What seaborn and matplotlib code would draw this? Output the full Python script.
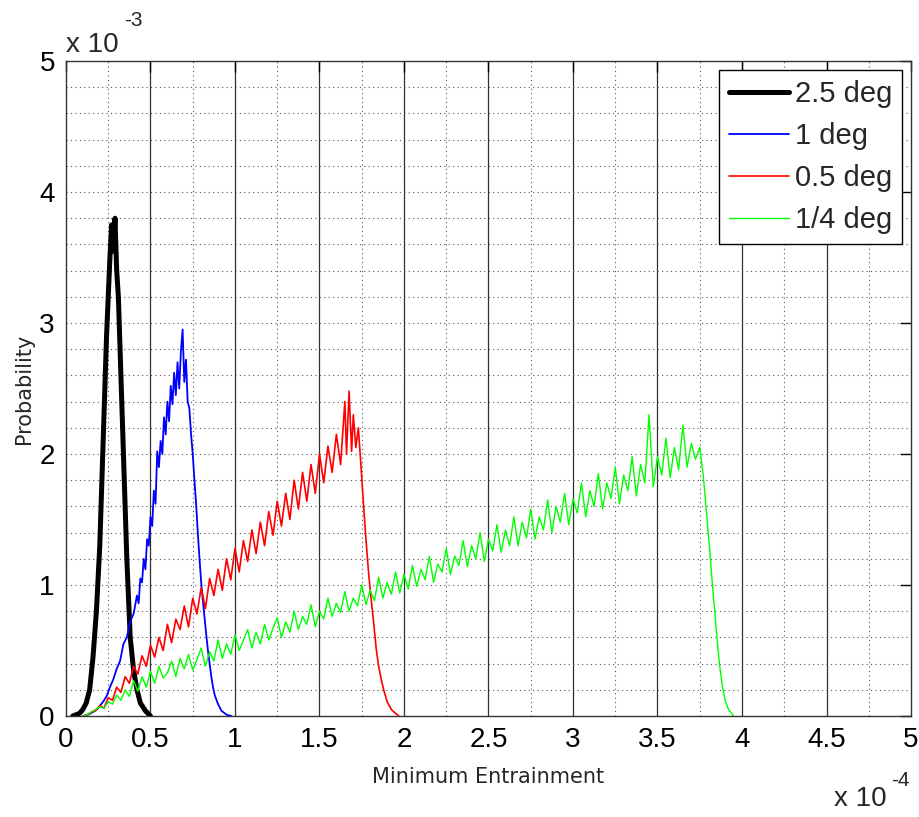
import numpy as np
import pandas as pd
import matplotlib
matplotlib.use("Agg")
import matplotlib.pyplot as plt
import seaborn as sns

# x in units of 1e-4, y in units of 1e-3
x_25 = [0.04, 0.08, 0.10, 0.12, 0.14, 0.16, 0.18, 0.19, 0.20, 0.21, 0.22, 0.23, 0.24, 0.25,
        0.26, 0.27, 0.28, 0.29, 0.30, 0.31, 0.32, 0.33, 0.34, 0.35, 0.36, 0.37, 0.38, 0.40,
        0.42, 0.44, 0.47, 0.50]
y_25 = [0.00, 0.02, 0.05, 0.10, 0.20, 0.45, 0.80, 1.05, 1.30, 1.70, 2.10, 2.50, 2.90, 3.20,
        3.50, 3.75, 3.55, 3.80, 3.40, 3.20, 2.80, 2.40, 2.00, 1.60, 1.20, 0.90, 0.60, 0.35,
        0.20, 0.10, 0.04, 0.00]

x_1 = [0.10, 0.13, 0.16, 0.19, 0.22, 0.24, 0.26, 0.28, 0.30, 0.32, 0.34, 0.36, 0.38, 0.40,
       0.42, 0.43, 0.44, 0.45, 0.46, 0.47, 0.48, 0.49, 0.50, 0.51, 0.52, 0.53, 0.54, 0.55,
       0.56, 0.57, 0.58, 0.59, 0.60, 0.61, 0.62, 0.63, 0.64, 0.65, 0.66, 0.67, 0.68, 0.69,
       0.70, 0.71, 0.72, 0.73, 0.74, 0.75, 0.76, 0.77, 0.78, 0.79, 0.80, 0.81, 0.82, 0.83,
       0.84, 0.85, 0.86, 0.87, 0.88, 0.90, 0.92, 0.95, 0.98]
y_1 = [0.00, 0.01, 0.03, 0.06, 0.11, 0.15, 0.22, 0.28, 0.36, 0.42, 0.55, 0.60, 0.72, 0.78,
       0.92, 0.86, 1.05, 1.02, 1.20, 1.12, 1.35, 1.30, 1.52, 1.45, 1.72, 1.62, 2.02, 1.90,
       2.10, 2.00, 2.28, 2.15, 2.40, 2.25, 2.52, 2.38, 2.62, 2.45, 2.70, 2.50, 2.78, 2.95,
       2.55, 2.72, 2.40, 2.35, 2.15, 2.00, 1.80, 1.62, 1.40, 1.20, 1.02, 0.88, 0.75, 0.62,
       0.50, 0.40, 0.30, 0.22, 0.16, 0.09, 0.04, 0.01, 0.00]

x_05 = [0.100, 0.125, 0.150, 0.175, 0.200, 0.225, 0.250, 0.275, 0.300, 0.325, 0.350, 0.375,
        0.400, 0.425, 0.450, 0.475, 0.500, 0.525, 0.550, 0.575, 0.600, 0.625, 0.650, 0.675,
        0.700, 0.725, 0.750, 0.775, 0.800, 0.825, 0.850, 0.875, 0.900, 0.925, 0.950, 0.975,
        1.000, 1.025, 1.050, 1.075, 1.100, 1.125, 1.150, 1.175, 1.200, 1.225, 1.250, 1.275,
        1.300, 1.325, 1.350, 1.375, 1.400, 1.425, 1.450, 1.475, 1.500, 1.525, 1.550, 1.575,
        1.600, 1.625, 1.650, 1.660, 1.675, 1.690, 1.700, 1.715, 1.730, 1.745, 1.760, 1.775,
        1.790, 1.805, 1.820, 1.835, 1.850, 1.865, 1.880, 1.900, 1.925, 1.950, 1.970]
y_05 = [0.00, 0.01, 0.03, 0.04, 0.08, 0.06, 0.14, 0.12, 0.22, 0.18, 0.30, 0.25,
        0.38, 0.32, 0.46, 0.38, 0.54, 0.45, 0.60, 0.50, 0.70, 0.56, 0.74, 0.66,
        0.84, 0.68, 0.90, 0.78, 0.98, 0.82, 1.05, 0.92, 1.12, 0.96, 1.20, 1.04,
        1.28, 1.10, 1.34, 1.18, 1.42, 1.24, 1.48, 1.30, 1.56, 1.38, 1.64, 1.45,
        1.70, 1.50, 1.80, 1.58, 1.86, 1.64, 1.92, 1.70, 2.00, 1.78, 2.06, 1.86,
        2.15, 1.92, 2.40, 2.00, 2.48, 2.02, 2.30, 2.05, 2.20, 1.92, 1.62, 1.35,
        1.10, 0.90, 0.72, 0.52, 0.38, 0.28, 0.20, 0.11, 0.05, 0.02, 0.00]

x_025 = [0.100, 0.125, 0.150, 0.175, 0.200, 0.225, 0.250, 0.275, 0.300, 0.325, 0.350, 0.375,
         0.400, 0.425, 0.450, 0.475, 0.500, 0.525, 0.550, 0.575, 0.600, 0.625, 0.650, 0.675,
         0.700, 0.725, 0.750, 0.775, 0.800, 0.825, 0.850, 0.875, 0.900, 0.925, 0.950, 0.975,
         1.000, 1.025, 1.050, 1.075, 1.100, 1.125, 1.150, 1.175, 1.200, 1.225, 1.250, 1.275,
         1.300, 1.325, 1.350, 1.375, 1.400, 1.425, 1.450, 1.475, 1.500, 1.525, 1.550, 1.575,
         1.600, 1.625, 1.650, 1.675, 1.700, 1.725, 1.750, 1.775, 1.800, 1.825, 1.850, 1.875,
         1.900, 1.925, 1.950, 1.975, 2.000, 2.025, 2.050, 2.075, 2.100, 2.125, 2.150, 2.175,
         2.200, 2.225, 2.250, 2.275, 2.300, 2.325, 2.350, 2.375, 2.400, 2.425, 2.450, 2.475,
         2.500, 2.525, 2.550, 2.575, 2.600, 2.625, 2.650, 2.675, 2.700, 2.725, 2.750, 2.775,
         2.800, 2.825, 2.850, 2.875, 2.900, 2.925, 2.950, 2.975, 3.000, 3.025, 3.050, 3.075,
         3.100, 3.125, 3.150, 3.175, 3.200, 3.225, 3.250, 3.275, 3.300, 3.325, 3.350, 3.375,
         3.400, 3.425, 3.450, 3.475, 3.500, 3.525, 3.550, 3.575, 3.600, 3.625, 3.650, 3.675,
         3.700, 3.725, 3.750, 3.770, 3.790, 3.810, 3.825, 3.840, 3.855, 3.870, 3.885, 3.900,
         3.920, 3.950]
y_025 = [0.00, 0.01, 0.03, 0.05, 0.07, 0.06, 0.11, 0.09, 0.16, 0.12, 0.20, 0.15,
         0.27, 0.19, 0.30, 0.22, 0.34, 0.25, 0.38, 0.29, 0.33, 0.42, 0.30, 0.44,
         0.36, 0.47, 0.35, 0.43, 0.52, 0.38, 0.49, 0.42, 0.58, 0.44, 0.55, 0.47,
         0.62, 0.50, 0.58, 0.66, 0.52, 0.64, 0.55, 0.70, 0.58, 0.67, 0.75, 0.60,
         0.72, 0.64, 0.80, 0.66, 0.76, 0.70, 0.85, 0.68, 0.80, 0.74, 0.90, 0.76,
         0.86, 0.79, 0.95, 0.80, 0.90, 0.84, 1.00, 0.85, 0.96, 0.88, 1.06, 0.90,
         1.02, 0.93, 1.10, 0.94, 1.08, 0.97, 1.15, 0.99, 1.12, 1.04, 1.22, 1.02,
         1.16, 1.10, 1.28, 1.08, 1.22, 1.15, 1.34, 1.14, 1.30, 1.20, 1.40, 1.18,
         1.35, 1.26, 1.46, 1.25, 1.42, 1.30, 1.52, 1.30, 1.48, 1.36, 1.58, 1.35,
         1.52, 1.42, 1.65, 1.40, 1.60, 1.48, 1.70, 1.46, 1.66, 1.55, 1.78, 1.52,
         1.72, 1.60, 1.85, 1.58, 1.78, 1.66, 1.90, 1.62, 1.84, 1.72, 1.98, 1.68,
         1.92, 1.78, 2.30, 1.75, 1.98, 1.84, 2.12, 1.82, 2.05, 1.88, 2.22, 1.90,
         2.08, 1.96, 2.05, 1.85, 1.55, 1.25, 1.00, 0.78, 0.55, 0.36, 0.22, 0.12,
         0.05, 0.00]

labels = ["2.5 deg", "1 deg", "0.5 deg", "1/4 deg"]
colors = ["#000000", "#0000ff", "#ff0000", "#00ff00"]
widths = [3.6, 1.3, 1.2, 1.0]
xs = [x_25, x_1, x_05, x_025]
ys = [y_25, y_1, y_05, y_025]

sns.set_style("white")
plt.rcParams["font.family"] = ["Liberation Sans", "DejaVu Sans"]

fig = plt.figure(figsize=(9.19, 8.17), dpi=100)
ax = fig.add_axes([0.0718, 0.1236, 0.9195, 0.8017])

for xv, yv, lab, c, w in zip(xs, ys, labels, colors, widths):
    df = pd.DataFrame({"x": xv, "y": yv})
    sns.lineplot(data=df, x="x", y="y", ax=ax, color=c, linewidth=w, label=lab,
                 sort=False, estimator=None)

ax.set_xlim(0, 5)
ax.set_ylim(0, 5)
xt = np.arange(0, 5.01, 0.5)
ax.set_xticks(xt)
ax.set_xticklabels(["0", "0.5", "1", "1.5", "2", "2.5", "3", "3.5", "4", "4.5", "5"])
ax.set_yticks([0, 1, 2, 3, 4, 5])
ax.set_yticklabels(["0", "1", "2", "3", "4", "5"])
ax.set_xticks(np.arange(0.25, 5, 0.5), minor=True)
ax.set_yticks(np.arange(0.2, 5, 0.2), minor=True)
ax.tick_params(axis="both", which="major", direction="in", length=8, width=1,
               top=True, right=True, labelsize=20, pad=8, colors="black")
ax.tick_params(axis="both", which="minor", length=0)

# grid
ax.grid(False)
for xv in xt[1:-1]:
    ax.axvline(xv, color="#303030", linewidth=0.9, zorder=0)
for xv in np.arange(0.25, 5, 0.5):
    ax.axvline(xv, color="#555555", linewidth=0.8, linestyle=(0, (1, 3)), zorder=0)
for yv in np.arange(0.2, 5, 0.2):
    ax.axhline(yv, color="#555555", linewidth=0.8, linestyle=(0, (1, 3)), zorder=0)

for s in ax.spines.values():
    s.set_color("#333333")
    s.set_linewidth(1.0)

ax.set_xlabel("Minimum Entrainment", fontsize=15, labelpad=10, family="DejaVu Sans")
ax.set_ylabel("Probability", fontsize=15, labelpad=4, family="DejaVu Sans")

leg = ax.legend(loc="upper right", fontsize=21, frameon=True, fancybox=False,
                edgecolor="black", framealpha=1, borderaxespad=0.3, handlelength=2.05,
                labelspacing=0.48, borderpad=0.35, handletextpad=0.2)
leg.get_frame().set_linewidth(1.0)

fig.text(0.0718, 0.945, "x 10", fontsize=20, ha="left", va="center")
fig.text(0.135, 0.975, "-3", fontsize=15, ha="left", va="center")
fig.text(0.908, 0.022, "x 10", fontsize=20, ha="left", va="center")
fig.text(0.970, 0.045, "-4", fontsize=15, ha="left", va="center")

fig.savefig("out.png", dpi=100)
